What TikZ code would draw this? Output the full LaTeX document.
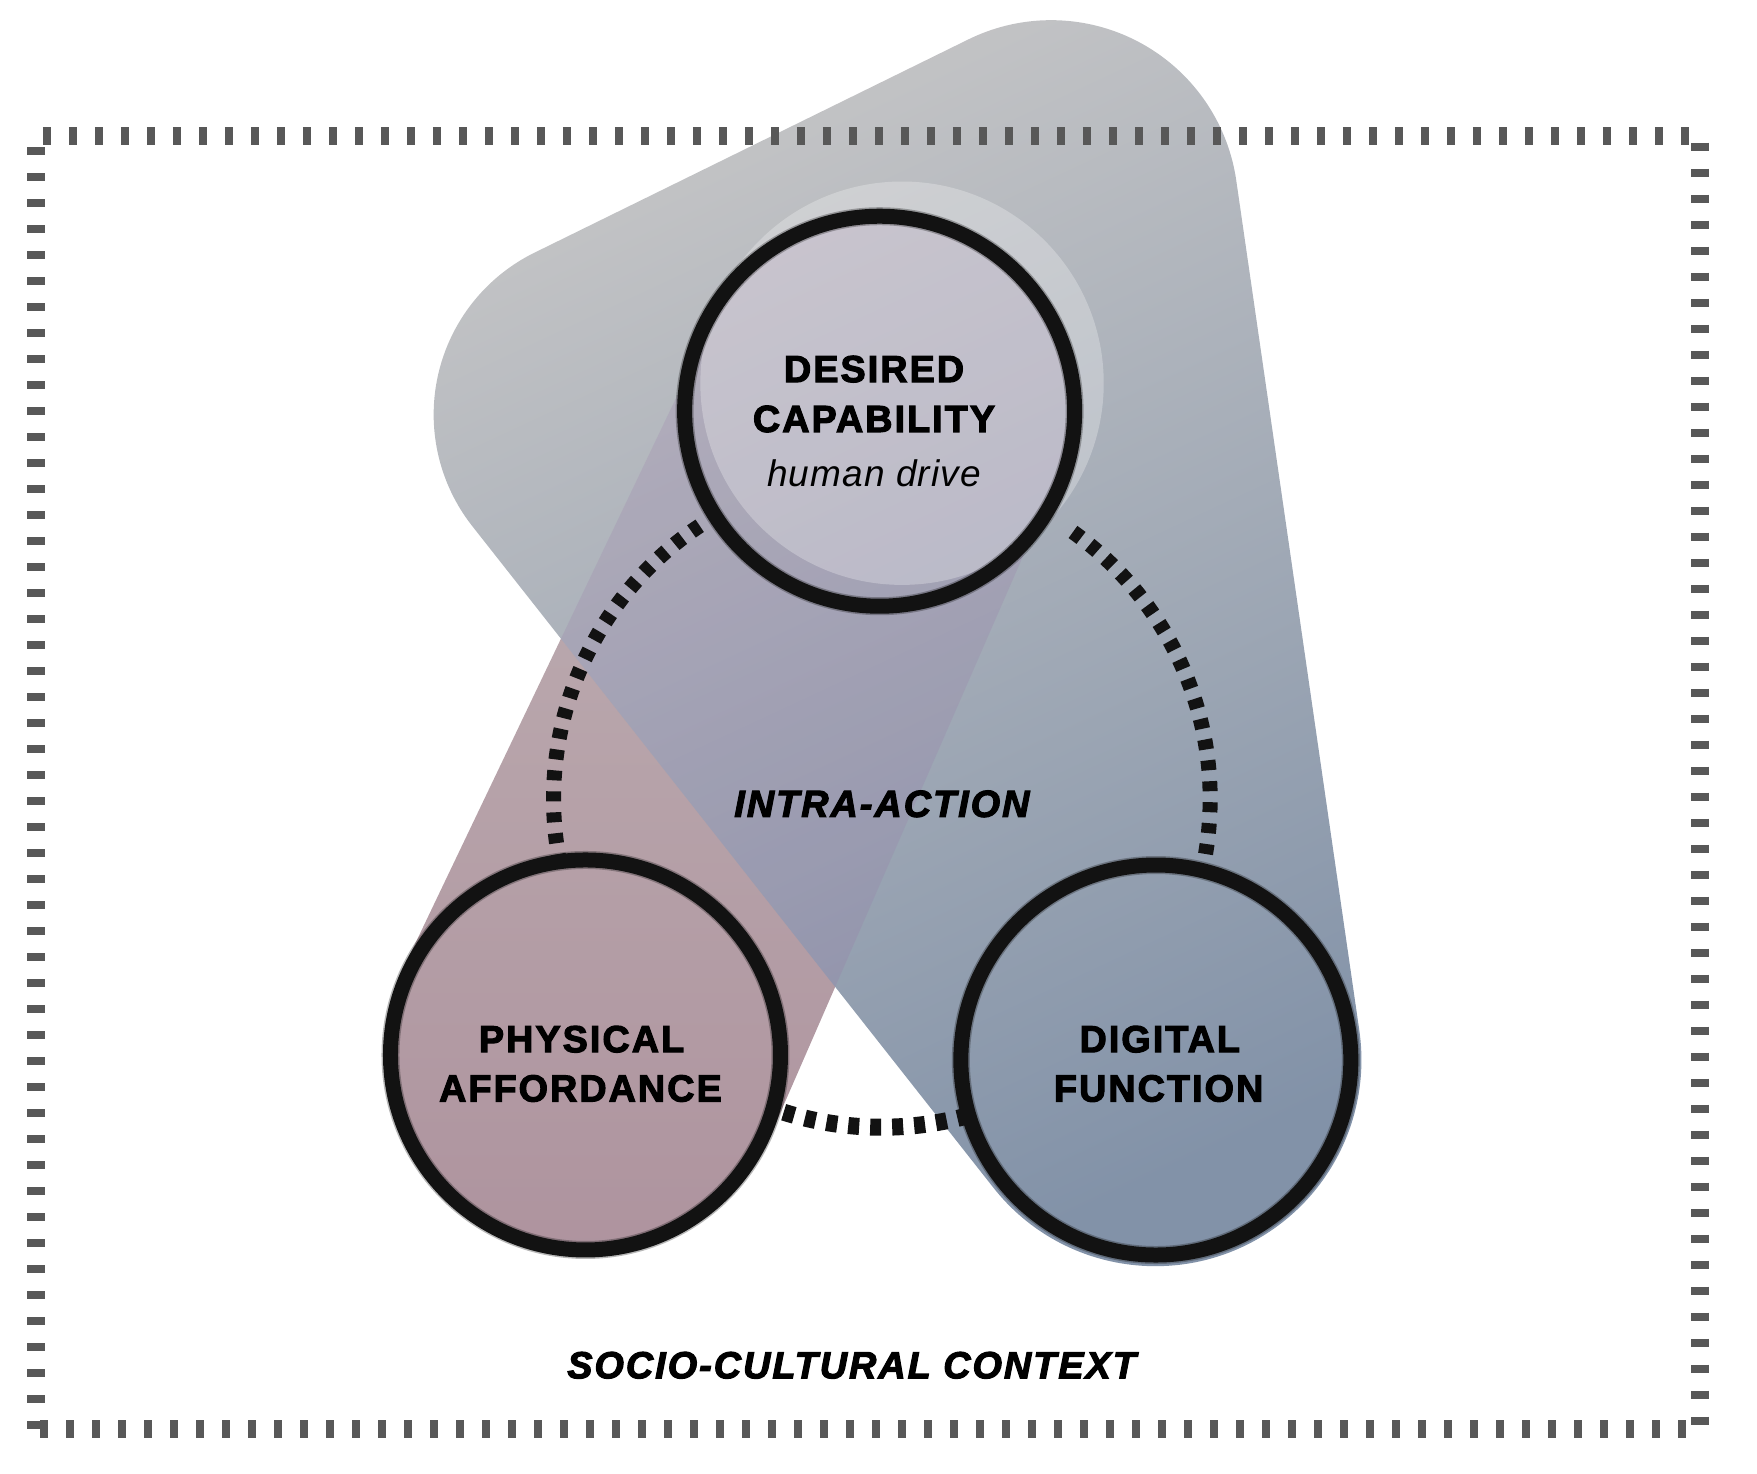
\documentclass[tikz,border=0pt]{standalone}
\usepackage{fontspec}
\setmainfont{Liberation Sans}
\usetikzlibrary{calc}
\definecolor{hullTop}{RGB}{197,197,198}
\definecolor{hullMid}{RGB}{171,174,180}
\definecolor{hullBot}{RGB}{130,146,168}
\definecolor{pinkTop}{RGB}{192,180,182}
\definecolor{pinkBot}{RGB}{174,147,158}
\definecolor{tint}{RGB}{150,112,165}
\definecolor{borderc}{RGB}{88,88,88}
\definecolor{ink}{RGB}{18,18,18}
\begin{document}
\begin{tikzpicture}[x=1.1205pt,y=1.1205pt,
  ring/.style={circle, draw=ink, line width=15pt, minimum size=390pt, inner sep=0pt},
  ringsoft/.style={circle, draw=ink, draw opacity=0.3, line width=18pt, minimum size=390pt, inner sep=0pt},
  conn/.style={draw=ink, line width=15pt, dash pattern=on 10pt off 11pt},
  connb/.style={draw=ink, line width=17pt, dash pattern=on 11pt off 11pt},
  frame/.style={draw=borderc, line width=18pt, dash pattern=on 8pt off 18pt},
  caps/.style={font=\fontsize{37.7}{45}\selectfont\bfseries\addfontfeature{LetterSpace=5.5,FakeBold=3}, anchor=base, inner sep=0pt, text=black},
  capsit/.style={font=\fontsize{37.7}{45}\selectfont\bfseries\itshape\addfontfeature{LetterSpace=5.5,FakeBold=3}, anchor=base, inner sep=0pt, text=black},
  sub/.style={font=\fontsize{37}{45}\selectfont\itshape\addfontfeature{LetterSpace=3}, anchor=base, inner sep=0pt, text=black}
]
\useasboundingbox (0,0) rectangle (1568,1315);
% hull circles
\coordinate (C1) at (938,1130);
\coordinate (C2) at (548,945);
\coordinate (C3) at (1031,369);
% band circles
\coordinate (T) at (785,948);
\coordinate (L) at (522.5,373.5);
% pink band
\shade[top color=pinkTop, bottom color=pinkBot]
  ($(T)+(-23.56:169)$) arc[start angle=-23.56, end angle=154.45, radius=169]
  -- ($(L)+(154.45:180)$) arc[start angle=154.45, end angle=336.44, radius=180] -- cycle;
% gray hull
\shade[top color=hullTop, middle color=hullMid, bottom color=hullBot, shading angle=25]
  ($(C2)+(116.2:161)$) arc[start angle=116.2, end angle=218.22, radius=161]
  -- ($(C3)+(218.22:184)$) arc[start angle=218.22, end angle=368.24, radius=184]
  -- ($(C1)+(8.24:167)$) arc[start angle=8.24, end angle=116.2, radius=167] -- cycle;
% tint where band overlaps hull
\begin{scope}
  \clip ($(C2)+(116.2:161)$) arc[start angle=116.2, end angle=218.22, radius=161]
  -- ($(C3)+(218.22:184)$) arc[start angle=218.22, end angle=368.24, radius=184]
  -- ($(C1)+(8.24:167)$) arc[start angle=8.24, end angle=116.2, radius=167] -- cycle;
  \fill[tint, opacity=0.19]
  ($(T)+(-23.56:169)$) arc[start angle=-23.56, end angle=154.45, radius=169]
  -- ($(L)+(154.45:180)$) arc[start angle=154.45, end angle=336.44, radius=180] -- cycle;
  \fill[white, opacity=0.27] (805,973) circle[radius=180];
\end{scope}
% outer frame
\coordinate (fa) at (32,40);
\coordinate (fb) at (1517,1194);
\draw[frame] (fa) rectangle (fb);
% dashed connectors (arcs of one large circle)
\coordinate (B) at (787,602);
\coordinate (tl) at ($(B)+(123.7:293)$);
\coordinate (tr) at ($(B)+(54.4:293)$);
\coordinate (bl) at ($(B)+(-107.4:293)$);
\draw[conn] (tl) arc[start angle=123.7, end angle=190.2, radius=293];
\draw[conn] (tr) arc[start angle=54.4, end angle=-11.4, radius=293];
\draw[connb] (bl) arc[start angle=-107.4, end angle=-75.2, radius=293];
% rings
\node[ringsoft] at (785,948) {};
\node[ringsoft] at (522.5,373.5) {};
\node[ringsoft] at (1031.5,369) {};
\node[ring] (top) at (785,948) {};
\node[ring] (left) at (522.5,373.5) {};
\node[ring] (right) at (1031.5,369) {};
% labels
\node[caps] (d1) at (780,974) {DESIRED};
\node[caps] (d2) at (780,929.5) {CAPABILITY};
\node[sub] (d3) at (780,880.5) {human drive};
\node[caps] (p1) at (519,376) {PHYSICAL};
\node[caps] (p2) at (518,332) {AFFORDANCE};
\node[caps] (g1) at (1035,376) {DIGITAL};
\node[caps] (g2) at (1034,332) {FUNCTION};
\node[capsit] (ia) at (787,586) {INTRA-ACTION};
\node[capsit] (sc) at (760,85) {SOCIO-CULTURAL CONTEXT};
\end{tikzpicture}
\end{document}
